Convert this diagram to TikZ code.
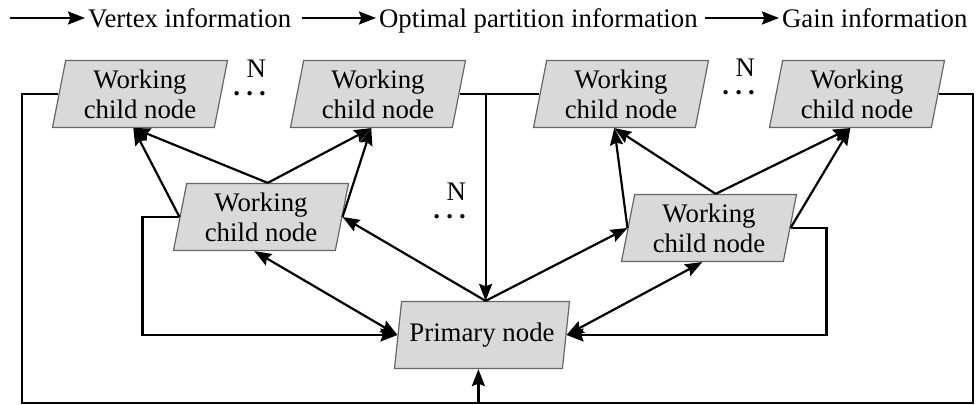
\documentclass[tikz,border=0pt]{standalone}
\usepackage{fontspec}
\setmainfont{Liberation Serif}
\usetikzlibrary{shapes.geometric,arrows.meta}
\tikzset{
>={Stealth[length=8.5pt,width=6.5pt,inset=1.2pt]},
every node/.style={font=\fontsize{13.4}{15}\selectfont},
pnode/.style={trapezium, trapezium left angle=76, trapezium right angle=104,
  trapezium stretches=true, trapezium stretches body=true,
  draw=black!60, line width=0.6pt, fill=black!15,
  minimum width=87.5pt, minimum height=33.5pt,
  align=center, inner xsep=2pt, inner ysep=1pt},
legend/.style={anchor=west, inner sep=1pt, text depth=0pt},
nlabel/.style={inner sep=0pt, anchor=south east, align=right},
}
\newcommand{\ndots}{N\\[-6.1pt]\textbf{.\kern3.1pt.\kern3.1pt.}}

\begin{document}
\begin{tikzpicture}[x=0.5pt,y=-0.5pt,line width=1.1pt]
    \useasboundingbox (0,0) rectangle (979,405);

    % legend
    \coordinate (a1) at (10,18);
    \coordinate (a2) at (302,18);
    \coordinate (a3) at (705,18);
    \node[legend] (vi) at (85,18) {Vertex information};
    \node[legend] (opi) at (376,18) {Optimal partition information};
    \node[legend] (gi) at (779,18) {Gain information};
    \draw[->] (a1) -- (vi.west);
    \draw[->] (a2) -- (opi.west);
    \draw[->] (a3) -- (gi.west);

    % nodes
    \node[pnode] (w1) at (140,94) {Working\\child node};
    \node[pnode] (w2) at (378,94) {Working\\child node};
    \node[pnode] (w3) at (621,94) {Working\\child node};
    \node[pnode] (w4) at (857,94) {Working\\child node};
    \node[pnode] (wl) at (261,217) {Working\\child node};
    \node[pnode] (wr) at (709,228) {Working\\child node};
    \node[pnode] (pn) at (482,335) {Primary node};

    \node[nlabel] (m1) at (267,97) {\ndots};
    \node[nlabel] (m2) at (467,220) {\ndots};
    \node[nlabel] (m3) at (756,96) {\ndots};

    % outer loop back to the primary node
    \coordinate (bl) at (22,403);
    \coordinate (br) at (973,403);
    \draw (w1.left side) -| (bl) -- (br) |- (w4.right side);
    \draw[->] (pn.bottom side |- bl) -- (pn.bottom side);

    \coordinate (jn) at (pn.top side |- w2.right side);
    \draw (w2.right side) -- (w3.left side);
    \draw[->] (jn) -- (pn.top side);

    \draw[->] (wl.left side) -- ++(-37,0) |- (pn.left side);
    \draw[->] (wr.right side) -- ++(36,0) |- (pn.right side);
    \draw[<->] (wl.bottom side) -- (pn.left side);
    \draw[<->] (wr.bottom side) -- (pn.right side);
    \draw[->] (pn.top side) -- (wl.right side);
    \draw[->] (pn.top side) -- (wr.left side);

    \draw[->] (wl.top side) -- (w1.bottom side);
    \draw[->] (wl.left side) -- (w1.bottom side);
    \draw[->] (wl.top side) -- (w2.bottom side);
    \draw[->] (wl.right side) -- (w2.bottom side);
    \draw[->] (wr.top side) -- (w3.bottom side);
    \draw[->] (wr.left side) -- (w3.bottom side);
    \draw[->] (wr.top side) -- (w4.bottom side);
    \draw[->] (wr.right side) -- (w4.bottom side);

\end{tikzpicture}
\end{document}
